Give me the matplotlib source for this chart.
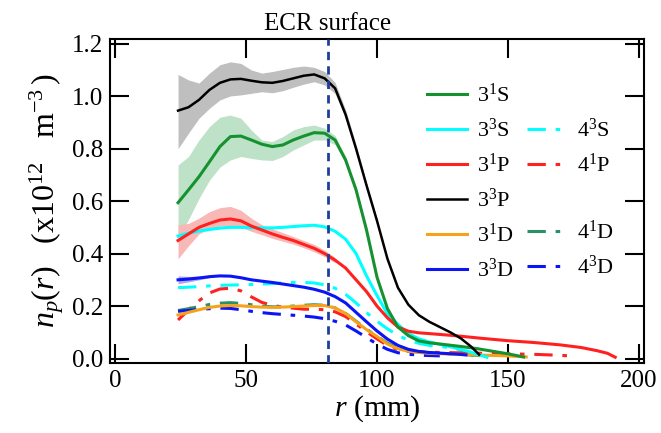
import matplotlib
matplotlib.use("Agg")
import matplotlib.pyplot as plt
from matplotlib.lines import Line2D
from matplotlib.ticker import FormatStrFormatter

plt.rcParams['font.family'] = ['Liberation Serif', 'DejaVu Serif']
plt.rcParams['mathtext.fontset'] = 'custom'
plt.rcParams['mathtext.rm'] = 'Liberation Serif'
plt.rcParams['mathtext.it'] = 'Liberation Serif:italic'
plt.rcParams['mathtext.bf'] = 'Liberation Serif:bold'

# ---------------- data ----------------
ecr_r = 81.3

# 3^3P (black)
r_33P = [24, 28, 32, 36, 40, 44, 48, 52, 56, 60, 64, 68, 72, 76, 80, 84, 88, 92, 96, 100,
         104, 108, 112, 116, 120, 124, 128, 132, 136, 139]
n_33P = [0.945, 0.958, 0.986, 1.024, 1.051, 1.064, 1.066, 1.059, 1.053, 1.051, 1.058, 1.068,
         1.078, 1.083, 1.068, 1.030, 0.930, 0.800, 0.660, 0.525, 0.380, 0.270, 0.205, 0.165,
         0.140, 0.120, 0.100, 0.077, 0.045, 0.015]
r_33P_band = [24, 28, 32, 36, 40, 44, 48, 52, 56, 60, 64, 68, 72, 76, 80, 84, 88, 92, 96, 100]
lo_33P = [0.800, 0.859, 0.916, 0.954, 0.986, 1.001, 1.005, 1.011, 1.017, 1.013, 1.021, 1.034,
          1.046, 1.055, 1.043, 1.010, 0.915, 0.788, 0.652, 0.520]
hi_33P = [1.083, 1.062, 1.050, 1.088, 1.120, 1.131, 1.125, 1.100, 1.088, 1.094, 1.102, 1.110,
          1.115, 1.110, 1.094, 1.052, 0.948, 0.815, 0.670, 0.532]

# 3^1S (green)
r_31S = [24, 28, 32, 36, 40, 44, 48, 52, 56, 60, 64, 68, 72, 76, 80, 84, 88, 92, 96, 100,
         104, 108, 112, 116, 120, 126, 132, 138, 144, 150, 156]
n_31S = [0.594, 0.643, 0.693, 0.750, 0.808, 0.846, 0.848, 0.833, 0.817, 0.808, 0.814, 0.833,
         0.848, 0.861, 0.859, 0.833, 0.757, 0.643, 0.490, 0.310, 0.190, 0.120, 0.087, 0.067,
         0.060, 0.053, 0.046, 0.038, 0.028, 0.018, 0.006]
r_31S_band = [24, 28, 32, 36, 40, 44, 48, 52, 56, 60, 64, 68, 72, 76, 80, 84, 88, 92]
lo_31S = [0.460, 0.530, 0.610, 0.680, 0.730, 0.757, 0.770, 0.763, 0.757, 0.755, 0.770, 0.795,
          0.814, 0.833, 0.833, 0.815, 0.745, 0.635]
hi_31S = [0.738, 0.770, 0.833, 0.884, 0.920, 0.928, 0.916, 0.871, 0.833, 0.827, 0.846, 0.871,
          0.884, 0.890, 0.878, 0.850, 0.770, 0.652]

# 3^1P (red)
r_31P = [24, 28, 32, 36, 40, 44, 48, 52, 56, 60, 64, 68, 72, 76, 80, 84, 88, 92, 96, 100,
         104, 108, 112, 116, 120, 130, 140, 150, 160, 170, 178, 184, 188, 191]
n_31P = [0.450, 0.475, 0.500, 0.515, 0.528, 0.532, 0.525, 0.505, 0.490, 0.475, 0.462, 0.450,
         0.435, 0.420, 0.400, 0.375, 0.345, 0.300, 0.255, 0.200, 0.155, 0.120, 0.104, 0.098,
         0.095, 0.087, 0.077, 0.068, 0.061, 0.052, 0.042, 0.030, 0.020, 0.005]
r_31P_band = [24, 28, 32, 36, 40, 44, 48, 52, 56, 60, 64, 68, 72, 76, 80, 84]
lo_31P = [0.380, 0.430, 0.475, 0.495, 0.505, 0.505, 0.500, 0.485, 0.472, 0.458, 0.447, 0.436,
          0.422, 0.407, 0.388, 0.365]
hi_31P = [0.510, 0.515, 0.535, 0.560, 0.575, 0.580, 0.565, 0.535, 0.510, 0.495, 0.480, 0.465,
          0.450, 0.435, 0.413, 0.385]

# 3^3S (cyan)
r_33S = [24, 28, 32, 36, 40, 44, 48, 52, 56, 60, 64, 68, 72, 76, 80, 84, 88, 92, 96, 100,
         104, 108, 112, 116, 120, 125, 130, 135, 139, 142]
n_33S = [0.467, 0.478, 0.486, 0.492, 0.497, 0.500, 0.500, 0.499, 0.498, 0.498, 0.500, 0.503,
         0.506, 0.508, 0.502, 0.485, 0.455, 0.400, 0.315, 0.240, 0.170, 0.130, 0.095, 0.075,
         0.063, 0.052, 0.040, 0.027, 0.014, 0.005]

# 3^3D (blue)
r_33D = [24, 28, 32, 36, 40, 44, 48, 52, 56, 60, 64, 68, 72, 76, 80, 84, 88, 92, 96, 100,
         104, 108, 112, 116, 120, 125, 130, 134]
n_33D = [0.300, 0.303, 0.307, 0.312, 0.315, 0.314, 0.308, 0.300, 0.295, 0.290, 0.284, 0.278,
         0.272, 0.264, 0.253, 0.236, 0.212, 0.176, 0.140, 0.105, 0.074, 0.050, 0.035, 0.027,
         0.023, 0.020, 0.017, 0.014]
r_33D_band = [24, 28, 32, 36]
lo_33D = [0.285, 0.292, 0.300, 0.308]
hi_33D = [0.315, 0.313, 0.314, 0.316]

# 3^1D (orange)
r_31D = [24, 28, 32, 36, 40, 44, 48, 52, 56, 60, 64, 68, 72, 76, 80, 84, 88, 92, 96, 100,
         104, 108, 112, 116, 120, 130, 140, 150, 157]
n_31D = [0.166, 0.176, 0.186, 0.195, 0.200, 0.202, 0.201, 0.198, 0.196, 0.195, 0.196, 0.198,
         0.200, 0.202, 0.202, 0.193, 0.172, 0.140, 0.110, 0.084, 0.055, 0.037, 0.028, 0.023,
         0.020, 0.016, 0.013, 0.010, 0.006]

# 4^1D (dash-dot green)
r_41D = [24, 28, 32, 36, 40, 44, 48, 52, 56, 60, 64, 68, 72, 76, 80, 84, 88, 92, 96, 100,
         104, 108, 112, 116, 120, 130, 138, 143]
n_41D = [0.183, 0.190, 0.198, 0.206, 0.211, 0.213, 0.210, 0.205, 0.200, 0.197, 0.197, 0.200,
         0.203, 0.205, 0.203, 0.193, 0.172, 0.142, 0.112, 0.085, 0.058, 0.040, 0.030, 0.025,
         0.022, 0.017, 0.012, 0.008]

# 4^1P (dash-dot red)
r_41P = [24, 28, 32, 36, 40, 44, 48, 52, 56, 60, 64, 68, 72, 76, 80, 84, 88, 92, 96, 100,
         104, 108, 112, 120, 130, 140, 150, 160, 168, 174]
n_41P = [0.147, 0.185, 0.220, 0.250, 0.265, 0.268, 0.258, 0.235, 0.214, 0.203, 0.196, 0.192,
         0.188, 0.188, 0.186, 0.178, 0.160, 0.132, 0.102, 0.075, 0.050, 0.034, 0.027, 0.024,
         0.022, 0.020, 0.018, 0.016, 0.013, 0.010]

# 4^3S (dash-dot cyan)
r_43S = [24, 28, 32, 36, 40, 44, 48, 52, 56, 60, 64, 68, 72, 76, 80, 84, 88, 92, 96, 100,
         104, 108, 112, 116, 120, 125, 130, 134, 137]
n_43S = [0.270, 0.272, 0.274, 0.277, 0.279, 0.280, 0.281, 0.282, 0.284, 0.286, 0.288, 0.290,
         0.290, 0.288, 0.281, 0.268, 0.245, 0.212, 0.175, 0.142, 0.113, 0.088, 0.070, 0.058,
         0.050, 0.045, 0.038, 0.025, 0.008]

# 4^3D (dash-dot blue)
r_43D = [24, 28, 32, 36, 40, 44, 48, 52, 56, 60, 64, 68, 72, 76, 80, 84, 88, 92, 96, 100,
         104, 108, 112, 118, 124]
n_43D = [0.180, 0.183, 0.187, 0.190, 0.192, 0.191, 0.186, 0.180, 0.175, 0.171, 0.168, 0.165,
         0.162, 0.158, 0.152, 0.142, 0.128, 0.105, 0.080, 0.055, 0.035, 0.022, 0.016, 0.012,
         0.010]

x_ticks = [0, 50, 100, 150, 200]
y_ticks = [0.0, 0.2, 0.4, 0.6, 0.8, 1.0, 1.2]

# ---------------- styling ----------------
C_31S = '#15922f'
C_33S = '#00ffff'
C_31P = '#ff2020'
C_33P = '#000000'
C_31D = '#f5a21c'
C_41D = '#2a9068'
C_33D = '#0a14f5'
DD = (6, 3.2, 1.5, 3.2)
LW = 2.2
SERIF = 'Liberation Serif'

fig = plt.figure(figsize=(6.61, 4.33), dpi=100)
ax = fig.add_axes([0.1664, 0.1617, 0.9743 - 0.1664, 0.9099 - 0.1617])

# bands
ax.fill_between(r_33P_band, lo_33P, hi_33P, color='#bfbfbf', lw=0, zorder=1)
ax.fill_between(r_31S_band, lo_31S, hi_31S, color='#bde2c8', lw=0, zorder=1)
ax.fill_between(r_31P_band, lo_31P, hi_31P, color='#f8b9b6', lw=0, zorder=1)
ax.fill_between(r_33D_band, lo_33D, hi_33D, color='#a9a9ef', lw=0, zorder=1)

# dash-dot lines (n=4)
l43S, = ax.plot(r_43S, n_43S, color=C_33S, lw=LW, dashes=DD, zorder=2)
l41P, = ax.plot(r_41P, n_41P, color=C_31P, lw=LW, dashes=DD, zorder=2)
l41D, = ax.plot(r_41D, n_41D, color=C_41D, lw=LW, dashes=DD, zorder=2)
l43D, = ax.plot(r_43D, n_43D, color=C_33D, lw=LW, dashes=DD, zorder=2)

# solid lines (n=3)
l31D, = ax.plot(r_31D, n_31D, color=C_31D, lw=LW, zorder=3)
l33D, = ax.plot(r_33D, n_33D, color=C_33D, lw=LW, zorder=3)
l33S, = ax.plot(r_33S, n_33S, color=C_33S, lw=LW, zorder=3)
l31P, = ax.plot(r_31P, n_31P, color=C_31P, lw=LW, zorder=3)
l31S, = ax.plot(r_31S, n_31S, color=C_31S, lw=LW, zorder=3)
l33P, = ax.plot(r_33P, n_33P, color=C_33P, lw=1.8, zorder=3)

# ECR surface
ax.axvline(ecr_r, color='#1f3e9c', lw=2.0, dashes=(3, 2.2), zorder=4)
ax.text(ecr_r, 1.232, 'ECR surface', ha='center', va='bottom', fontsize=18,
        fontfamily=SERIF, clip_on=False)

ax.set_xlim(-2, 202)
ax.set_ylim(-0.017, 1.218)
ax.set_xticks(x_ticks)
ax.set_yticks(y_ticks)
ax.yaxis.set_major_formatter(FormatStrFormatter('%.1f'))
ax.tick_params(direction='in', length=14, width=1.5, labelsize=18, top=True, right=True,
               pad=5, labelfontfamily=SERIF)
for s in ax.spines.values():
    s.set_linewidth(1.5)

ax.set_xlabel(r'$r$ (mm)', fontsize=21.5, labelpad=1)
ax.set_ylabel(r'$n_p(r)\quad$(x10$^{12}\quad$m$^{-3}\,$)', fontsize=23, labelpad=4)

blank = Line2D([], [], linestyle='none')
handles = [l31S, l33S, l31P, l33P, l31D, l33D,
           blank, l43S, l41P, blank, l41D, l43D]
labels = [r'$\mathregular{3^1S}$', r'$\mathregular{3^3S}$', r'$\mathregular{3^1P}$',
          r'$\mathregular{3^3P}$', r'$\mathregular{3^1D}$', r'$\mathregular{3^3D}$',
          ' ', r'$\mathregular{4^3S}$', r'$\mathregular{4^1P}$',
          ' ', r'$\mathregular{4^1D}$', r'$\mathregular{4^3D}$']
leg = ax.legend(handles, labels, ncol=2, frameon=False, fontsize=16,
                loc='upper left', bbox_to_anchor=(0.594, 0.862), borderpad=0,
                borderaxespad=0, handlelength=1.8, handletextpad=0.45,
                columnspacing=0.6, labelspacing=0.53)
fig.savefig('out.png', dpi=100)
